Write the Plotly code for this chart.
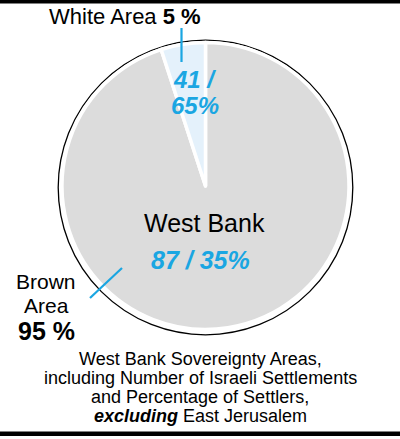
import plotly.graph_objects as go

areas = ["Brown Area", "White Area"]
area_pct = [95, 5]
slice_colors = ["#dcdcdc", "#e4f1fb"]
white_label = ["41 /", "65%"]
brown_label = "87 / 35%"
brown_name = ["Brown", "Area"]
caption_lines = [
    "West Bank Sovereignty Areas,",
    "including Number of Israeli Settlements",
    "and Percentage of Settlers,",
    "<b><i>excluding</i></b> East Jerusalem",
]

W, H = 400, 439
cx, cy, r = 205.5, 186, 143.5
ox, oy, orad = 205.5, 187.5, 147.3
blue = "#1aa6e2"
FONT = "Liberation Sans, Arial, sans-serif"

def px(x):
    return x / W

def py(y):
    return 1 - y / H

def dom(x0, y0, rad):
    return dict(x=[px(x0 - rad), px(x0 + rad)], y=[py(y0 + rad), py(y0 - rad)])

fig = go.Figure()
# outline ring
fig.add_trace(go.Pie(
    values=[1], labels=["outline"], sort=False, textinfo="none", hoverinfo="skip",
    marker=dict(colors=["white"], line=dict(color="black", width=1.3)),
    domain=dom(ox, oy, orad), showlegend=False,
))
fig.add_trace(go.Pie(
    labels=areas,
    values=area_pct,
    sort=False,
    direction="clockwise",
    rotation=0,
    textinfo="none",
    hoverinfo="label+percent",
    marker=dict(colors=slice_colors, line=dict(color="white", width=3.5)),
    domain=dom(cx, cy, r),
    showlegend=False,
))

shapes = [
    dict(type="line", xref="paper", yref="paper", x0=px(181.5), x1=px(181.5), y0=py(28), y1=py(62),
         line=dict(color=blue, width=2.2)),
    dict(type="line", xref="paper", yref="paper", x0=px(90), x1=px(122), y0=py(298), y1=py(268),
         line=dict(color=blue, width=2.2)),
    dict(type="rect", xref="paper", yref="paper", x0=0, x1=1, y0=py(3.5), y1=py(0),
         fillcolor="black", line=dict(width=0)),
    dict(type="rect", xref="paper", yref="paper", x0=0, x1=1, y0=py(436), y1=py(431.5),
         fillcolor="black", line=dict(width=0)),
]

ann = []
def add(text, x, y, size, color="black", xanchor="center"):
    ann.append(dict(text=text, x=px(x), y=py(y), xref="paper", yref="paper",
                    showarrow=False, xanchor=xanchor, yanchor="middle",
                    font=dict(family=FONT, size=size, color=color)))

add(areas[1] + " <b>" + str(area_pct[1]) + " %</b>", 47, 17, 22, xanchor="left")
add("<b><i>" + white_label[0] + "</i></b>", 194, 79.5, 24, color=blue)
add("<b><i>" + white_label[1] + "</i></b>", 195, 105.5, 24, color=blue)
add("West Bank", 205, 223, 25)
add("<b><i>" + brown_label + "</i></b>", 201, 259.5, 25, color=blue)
add(brown_name[0], 46, 281.5, 21)
add(brown_name[1], 46, 305, 21)
add("<b>" + str(area_pct[0]) + " %</b>", 46, 331, 25)
for i, line in enumerate(caption_lines):
    add(line, 200, 358.5 + i * 19, 18)

fig.update_layout(
    width=W, height=H,
    margin=dict(l=0, r=0, t=0, b=0),
    paper_bgcolor="white", plot_bgcolor="white",
    shapes=shapes, annotations=ann,
)

fig.write_html("out.html")
